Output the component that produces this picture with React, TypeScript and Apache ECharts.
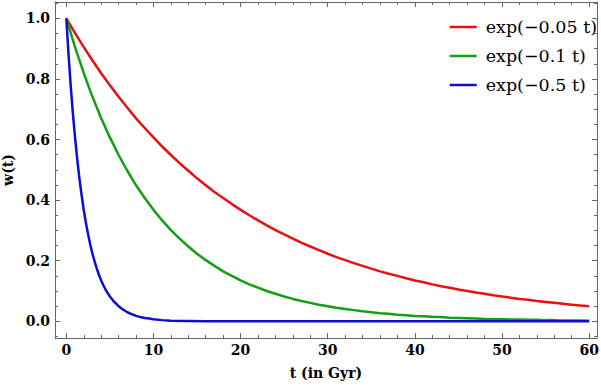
import React, { useEffect, useRef } from "react";
import * as echarts from "echarts";

// time samples (Gyr) for the slow curves
const tSlow = [0, 1, 2, 3, 4, 5, 6, 7, 8, 9, 10, 11, 12, 13, 14, 15, 16, 17, 18, 19, 20, 21, 22, 23, 24, 25, 26, 27, 28, 29, 30, 31, 32, 33, 34, 35, 36, 37, 38, 39, 40, 41, 42, 43, 44, 45, 46, 47, 48, 49, 50, 51, 52, 53, 54, 55, 56, 57, 58, 59, 60];
const wRed = [1.0, 0.951, 0.905, 0.861, 0.819, 0.779, 0.741, 0.705, 0.67, 0.638, 0.607, 0.577, 0.549, 0.522, 0.497, 0.472, 0.449, 0.427, 0.407, 0.387, 0.368, 0.35, 0.333, 0.317, 0.301, 0.287, 0.273, 0.259, 0.247, 0.235, 0.223, 0.212, 0.202, 0.192, 0.183, 0.174, 0.165, 0.157, 0.15, 0.142, 0.135, 0.129, 0.122, 0.116, 0.111, 0.105, 0.1, 0.095, 0.091, 0.086, 0.082, 0.078, 0.074, 0.071, 0.067, 0.064, 0.061, 0.058, 0.055, 0.052, 0.05];
const wGreen = [1.0, 0.905, 0.819, 0.741, 0.67, 0.607, 0.549, 0.497, 0.449, 0.407, 0.368, 0.333, 0.301, 0.273, 0.247, 0.223, 0.202, 0.183, 0.165, 0.15, 0.135, 0.122, 0.111, 0.1, 0.091, 0.082, 0.074, 0.067, 0.061, 0.055, 0.05, 0.045, 0.041, 0.037, 0.033, 0.03, 0.027, 0.025, 0.022, 0.02, 0.018, 0.017, 0.015, 0.014, 0.012, 0.011, 0.01, 0.009, 0.008, 0.007, 0.007, 0.006, 0.006, 0.005, 0.005, 0.004, 0.004, 0.003, 0.003, 0.003, 0.002];
// time samples for the fast curve
const tFast = [0, 0.25, 0.5, 0.75, 1, 1.25, 1.5, 1.75, 2, 2.25, 2.5, 2.75, 3, 3.25, 3.5, 3.75, 4, 4.25, 4.5, 4.75, 5, 5.5, 6, 6.5, 7, 7.5, 8, 8.5, 9, 9.5, 10, 11, 12, 14, 16, 20, 30, 40, 50, 60];
const wBlue = [1.0, 0.882, 0.779, 0.687, 0.607, 0.535, 0.472, 0.417, 0.368, 0.325, 0.287, 0.253, 0.223, 0.197, 0.174, 0.153, 0.135, 0.119, 0.105, 0.093, 0.082, 0.064, 0.05, 0.039, 0.03, 0.024, 0.018, 0.014, 0.011, 0.009, 0.007, 0.004, 0.002, 0.001, 0.0, 0.0, 0.0, 0.0, 0.0, 0.0];

const seriesNames = ["exp(\u22120.05 t)", "exp(\u22120.1 t)", "exp(\u22120.5 t)"];
const seriesColors = ["#e81010", "#12a012", "#0c0cd2"];
const xTitle = "t (in Gyr)";
const yTitle = "w(t)";

const FONT = "DejaVu Serif";
const FRAME = "#666666";

function pairs(t: number[], w: number[]) {
  return t.map((v, i) => [v, w[i]]);
}

export default function App() {
  const ref = useRef<HTMLDivElement>(null);
  useEffect(() => {
    document.body.style.margin = "0";
    const chart = echarts.init(ref.current!, null, { renderer: "svg" });
    const tickLabel = { color: "#000", fontFamily: FONT, fontWeight: "bold" as const, fontSize: 14, margin: 5, showMinLabel: false, showMaxLabel: false };
    const axisCommon = {
      type: "value" as const,
      axisLine: { show: true, onZero: false, lineStyle: { color: FRAME, width: 1 } },
      axisTick: { show: true, inside: true, length: 5, lineStyle: { color: FRAME } },
      minorTick: { show: true, splitNumber: 5, length: 3, lineStyle: { color: FRAME } },
      splitLine: { show: false },
    };
    const xBase = { ...axisCommon, min: -1.3, max: 60.9, minInterval: 10, maxInterval: 10, splitNumber: 6 };
    const yBase = {
      ...axisCommon,
      min: -0.055,
      max: 1.054,
      minInterval: 0.2,
      maxInterval: 0.2,
      splitNumber: 5,
      minorTick: { show: true, splitNumber: 4, length: 3, lineStyle: { color: FRAME } },
    };
    const datasets = [pairs(tSlow, wRed), pairs(tSlow, wGreen), pairs(tFast, wBlue)];
    chart.setOption({
      animation: false,
      grid: { left: 55, right: 4, top: 2, bottom: 47, containLabel: false, outerBoundsMode: "none" },
      xAxis: [
        {
          ...xBase,
          position: "bottom",
          axisLabel: { ...tickLabel, formatter: (v: number) => String(v) },
          name: xTitle,
          nameLocation: "middle",
          nameGap: 28,
          nameTextStyle: { color: "#000", fontFamily: FONT, fontWeight: "bold", fontSize: 14 },
        },
        { ...xBase, position: "top", axisLabel: { show: false } },
      ],
      yAxis: [
        {
          ...yBase,
          position: "left",
          axisLabel: { ...tickLabel, formatter: (v: number) => v.toFixed(1) },
          name: yTitle,
          nameLocation: "middle",
          nameGap: 35,
          nameTextStyle: { color: "#000", fontFamily: FONT, fontWeight: "bold", fontSize: 14 },
        },
        { ...yBase, position: "right", axisLabel: { show: false } },
      ],
      legend: {
        orient: "vertical",
        right: -1,
        top: 12,
        icon: "rect",
        itemWidth: 27,
        itemHeight: 2.5,
        itemGap: 9,
        textStyle: { color: "#000", fontFamily: FONT, fontSize: 17.5, lineHeight: 20, padding: [0, 0, 0, 4] },
        data: seriesNames,
      },
      series: seriesNames.map((name, i) => ({
        name,
        type: "line",
        data: datasets[i],
        showSymbol: false,
        smooth: false,
        lineStyle: { color: seriesColors[i], width: 2.5, join: "round" },
        itemStyle: { color: seriesColors[i] },
        clip: true,
      })),
    });
    return () => chart.dispose();
  }, []);
  return <div ref={ref} style={{ width: 601, height: 385 }} />;
}
